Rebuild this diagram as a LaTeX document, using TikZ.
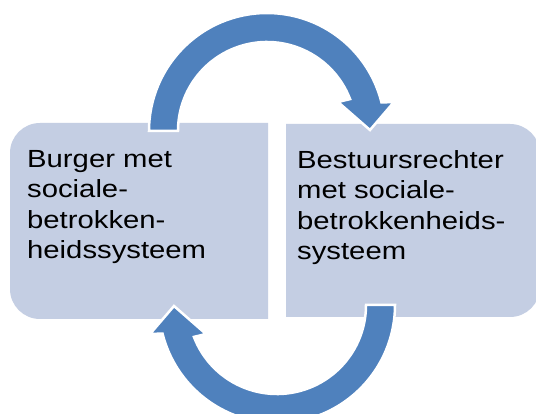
\documentclass[tikz,border=0pt]{standalone}
\usepackage{fontspec}
\usetikzlibrary{calc}
\newfontfamily\boxfont[FakeStretch=1.18]{Liberation Sans}
\definecolor{arrowblue}{HTML}{4F81BD}
\definecolor{boxfill}{HTML}{C4CEE3}
\tikzset{
  boxshape/.style={fill=boxfill, rounded corners=30pt},
  cyclearrow/.style={fill=arrowblue, draw=white, line width=2.5pt, line join=miter},
  boxtext/.style={anchor=base west, align=left, inner sep=0pt,
    font=\boxfont\fontsize{24.8}{30.5}\selectfont}
}
\begin{document}
\begin{tikzpicture}[x=1pt,y=-1pt]
\clip (0,0) rectangle (536,414);
\fill[white] (0,0) rectangle (536,414);
% boxes
\fill[boxshape] (268,319) -- (10,319) -- (10,123) -- (268,123);
\fill[boxshape] (286,124) -- (540,124) -- (540,317) -- (286,317);
% top arrow (from burger to rechter)
\filldraw[cyclearrow] (149,131) arc (180:346:118)
  -- (394,102) -- (370,130) -- (338,102)
  -- ($(267,131)+(339:89)$) arc (339:180:89) -- cycle;
% bottom arrow (from rechter to burger), point-symmetric
\begin{scope}[rotate around={180:(272,218)}]
\filldraw[cyclearrow] (149,131) arc (180:346:118)
  -- (394,102) -- (370,130) -- (338,102)
  -- ($(267,131)+(339:89)$) arc (339:180:89) -- cycle;
\end{scope}
% text nodes (base anchor = last line)
\node[boxtext] (burger) at (27,259) {Burger met\\sociale-\\betrokken-\\heidssysteem};
\node[boxtext] (rechter) at (297,260) {Bestuursrechter\\met sociale-\\betrokkenheids-\\systeem};
\end{tikzpicture}
\end{document}
